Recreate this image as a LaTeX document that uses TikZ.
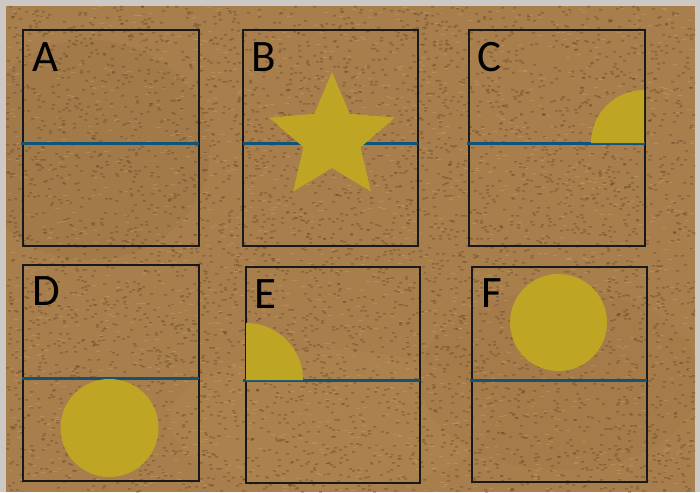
\documentclass[tikz,border=0pt]{standalone}
\usepackage{fontspec}
\setmainfont{Carlito}
\definecolor{leather}{RGB}{168,127,76}
\definecolor{leatherdark}{RGB}{100,68,38}
\definecolor{leatherlight}{RGB}{210,170,108}
\definecolor{edgegray}{RGB}{205,200,195}
\definecolor{gold}{RGB}{190,165,35}
\definecolor{lineblue}{RGB}{18,84,120}
\tikzset{
  frame/.style={draw=black!90, line width=2.1pt, inner sep=0pt, minimum width=#1},
  divider/.style={draw=lineblue, line width=3pt},
  shapefill/.style={fill=gold, draw=none},
  letter/.style={inner sep=0pt, anchor=base west, font=\fontsize{45}{45}\selectfont, text=black},
  spot/.style={fill=leatherdark, fill opacity=0.4},
  seam/.style={fill=leatherlight, fill opacity=0.35}
}
\begin{document}
\begin{tikzpicture}[x=1pt,y=-1pt]
\useasboundingbox (0,0) rectangle (700,492);
% background
\fill[edgegray] (0,0) rectangle (700,492);
\fill[leather] (6,6) rectangle (695,492);
\begin{scope}
\clip (6,6) rectangle (695,492);
\fill[leatherdark,fill opacity=0.08] (90,150) ellipse (120 and 110);
\fill[leatherdark,fill opacity=0.06] (560,380) ellipse (140 and 90);
\fill[leatherlight,fill opacity=0.08] (330,420) ellipse (160 and 70);
\pgfmathsetseed{11}
\foreach \k in {1,...,10}{
  \fill[spot] \foreach \i in {1,...,500}{ ({int(6+689*rnd)},{int(6+486*rnd)}) rectangle ++(3,1.6) };
}
\foreach \k in {1,...,3}{
  \fill[seam] \foreach \i in {1,...,500}{ ({int(6+689*rnd)},{int(6+486*rnd)}) rectangle ++(4,0.8) };
}
\end{scope}
% boxes
\node[frame=176pt, minimum height=216pt] (boxA) at (111,138) {};
\node[frame=175pt, minimum height=216pt] (boxB) at (330.5,138) {};
\node[frame=176pt, minimum height=216pt] (boxC) at (557,138) {};
\node[frame=176pt, minimum height=216pt] (boxD) at (111,373) {};
\node[frame=174pt, minimum height=216pt] (boxE) at (333,375) {};
\node[frame=175pt, minimum height=215pt] (boxF) at (559.5,374.5) {};
% dividers
\draw[divider] (21,143) -- (199,143);
\draw[divider] (243,143) -- (418,143);
\draw[divider] (467,143) -- (645,143);
\draw[divider] (22,378) -- (199,378);
\draw[divider] (243,380) -- (420,380);
\draw[divider] (470,380) -- (647,380);
% shapes
\fill[shapefill, shift={(332,138)}] (-90:66) \foreach \k in {1,...,9}{ -- ({-90+36*\k}:{ifthenelse(isodd(\k),30,66)}) } -- cycle;
\fill[shapefill] (644,143) -- ++(-53,0) arc[start angle=180, end angle=270, radius=53] -- cycle;
\fill[shapefill] (109.5,428) circle[radius=49];
\fill[shapefill] (246,380) -- ++(57,0) arc[start angle=0, end angle=-90, radius=57] -- cycle;
\fill[shapefill] (558.5,322.5) circle[radius=48.5];
% letters
\node[letter] (lA) at (32,72) {A};
\node[letter] (lB) at (251,72) {B};
\node[letter] (lC) at (477,72) {C};
\node[letter] (lD) at (32,305) {D};
\node[letter] (lE) at (254,308) {E};
\node[letter] (lF) at (481,307) {F};
\end{tikzpicture}
\end{document}
